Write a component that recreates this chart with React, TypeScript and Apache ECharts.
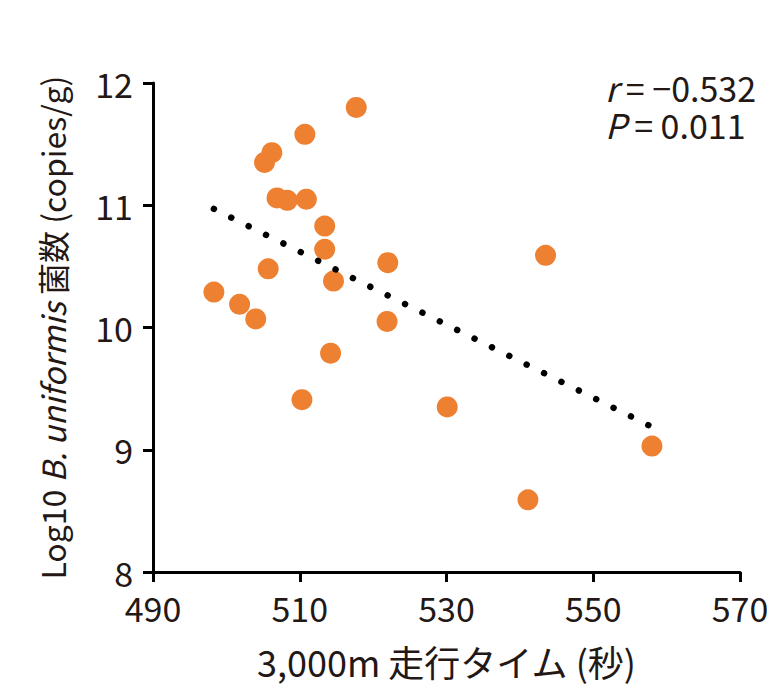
import React, { useEffect, useRef } from "react";
import * as echarts from "echarts";

const runTimes = [498.3, 501.8, 504.0, 505.7, 505.2, 506.2, 506.9, 508.3, 510.7, 510.9, 510.3, 513.4, 513.4, 514.6, 514.2, 517.7, 522.0, 521.9, 530.1, 541.1, 543.5, 558.0];
const logCounts = [10.29, 10.19, 10.07, 10.48, 11.35, 11.43, 11.06, 11.04, 11.58, 11.05, 9.41, 10.83, 10.64, 10.38, 9.79, 11.80, 10.53, 10.05, 9.35, 8.59, 10.59, 9.03];
const trendX = [498.3, 557.9];
const trendY = [10.97, 9.19];
const xTicks = { min: 490, max: 570, interval: 20 };
const yTicks = { min: 8, max: 12, interval: 1 };
const statR = "−0.532";
const statP = "0.011";

const FONT = "'Noto Sans CJK JP', 'Noto Sans', sans-serif";
const TXT = "#231815";

export default function App() {
  const ref = useRef<HTMLDivElement>(null);
  useEffect(() => {
    if (!ref.current) return;
    const chart = echarts.init(ref.current, undefined, { renderer: "svg" });
    const points = runTimes.map((x, i) => [x, logCounts[i]]);
    const trend = trendX.map((x, i) => [x, trendY[i]]);
    const statStyle = (label: string, value: string) => ({
      text: "{i|" + label + "}{n| = " + value + "}",
      fontFamily: FONT,
      fontSize: 34,
      fill: TXT,
      rich: {
        i: { fontFamily: FONT, fontSize: 34, lineHeight: 32, fill: TXT, fontStyle: "italic" },
        n: { fontFamily: FONT, fontSize: 34, lineHeight: 32, fill: TXT },
      },
    });
    chart.setOption({
      animation: false,
      backgroundColor: "#ffffff",
      grid: { left: 153, right: 35, top: 83, bottom: 128, outerBoundsMode: "none", containLabel: false },
      xAxis: {
        type: "value",
        min: xTicks.min,
        max: xTicks.max,
        interval: xTicks.interval,
        name: "3,000m 走行タイム (秒)",
        nameLocation: "middle",
        nameGap: 71,
        nameTextStyle: { fontFamily: FONT, fontSize: 36, color: TXT },
        axisLine: { lineStyle: { color: "#000", width: 3 } },
        axisTick: { length: 10, lineStyle: { color: "#000", width: 3 } },
        axisLabel: { fontFamily: FONT, fontSize: 34, color: TXT, margin: 18 },
        splitLine: { show: false },
      },
      yAxis: {
        type: "value",
        min: yTicks.min,
        max: yTicks.max,
        interval: yTicks.interval,
        name: "Log10 {i|B. uniformis} 菌数 (copies/g)",
        nameLocation: "middle",
        nameRotate: 90,
        nameGap: 85,
        nameTextStyle: {
          fontFamily: FONT,
          fontSize: 32,
          color: TXT,
          rich: { i: { fontFamily: FONT, fontSize: 32, color: TXT, fontStyle: "italic" } },
        },
        axisLine: { lineStyle: { color: "#000", width: 3 } },
        axisTick: { length: 10, lineStyle: { color: "#000", width: 3 } },
        axisLabel: { fontFamily: FONT, fontSize: 34, color: TXT, margin: 20 },
        splitLine: { show: false },
      },
      series: [
        {
          type: "scatter",
          data: points,
          symbolSize: 21,
          itemStyle: { color: "#EE8032", opacity: 1 },
          z: 2,
        },
        {
          type: "line",
          data: trend,
          symbol: "none",
          z: 3,
          lineStyle: { color: "#000", width: 6.5, type: [0.01, 19.4], cap: "round" },
        },
      ],
      graphic: [
        { type: "text", left: 605, top: 70, style: statStyle("r", statR) },
        { type: "text", left: 605, top: 107, style: statStyle("P", statP) },
      ],
    });
    return () => chart.dispose();
  }, []);
  return <div ref={ref} style={{ width: 775, height: 700, marginLeft: -8, marginTop: -8 }} />;
}
